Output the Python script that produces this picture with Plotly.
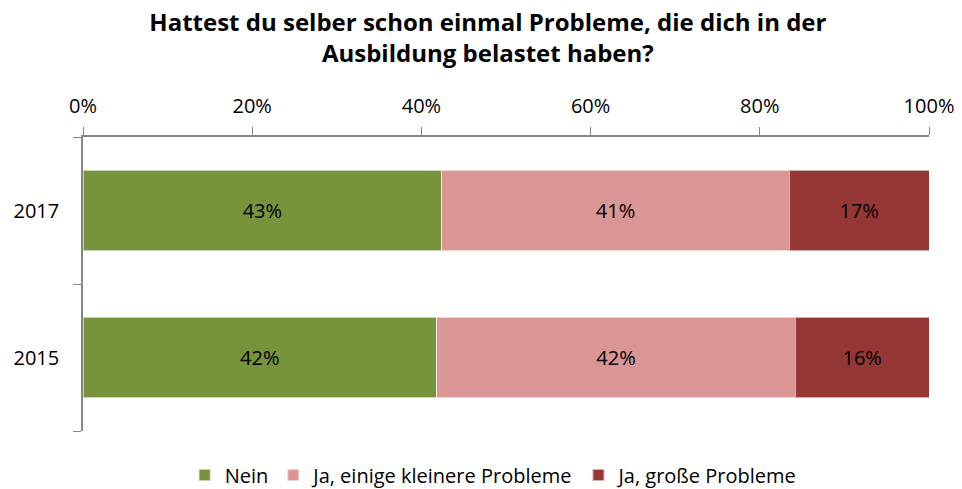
import plotly.graph_objects as go

years = ["2015", "2017"]
series_names = ["Nein", "Ja, einige kleinere Probleme", "Ja, große Probleme"]
nein = [41.8, 42.4]
kleine = [42.4, 41.1]
grosse = [15.8, 16.5]
nein_lbl = ["42%", "43%"]
kleine_lbl = ["42%", "41%"]
grosse_lbl = ["16%", "17%"]
colors = ["#77933C", "#D99694", "#953735"]
x_ticks = [0, 20, 40, 60, 80, 100]

FONT = "'Open Sans', Lato, sans-serif"

fig = go.Figure()
for name, vals, lbls, col in zip(series_names, [nein, kleine, grosse],
                                 [nein_lbl, kleine_lbl, grosse_lbl], colors):
    fig.add_trace(go.Bar(
        y=years, x=vals, name=name, orientation="h",
        marker=dict(color=col, line=dict(color="rgba(255,255,255,0.6)", width=1)),
        text=lbls, textposition="inside", insidetextanchor="middle",
        textfont=dict(color="black", size=20, family=FONT),
        constraintext="none", hoverinfo="skip",
    ))

fig.update_layout(
    barmode="stack",
    bargap=0.45,
    width=954, height=481,
    margin=dict(l=75, r=33, t=129, b=58),
    paper_bgcolor="white", plot_bgcolor="white",
    font=dict(family=FONT, size=20, color="black"),
    title=dict(
        text="<b>Hattest du selber schon einmal Probleme, die dich in der<br>Ausbildung belastet haben?</b>",
        x=0.503, xanchor="center", y=0.952, yanchor="top",
        font=dict(size=24, family=FONT, color="black"),
    ),
    legend=dict(
        orientation="h", x=0.486, xanchor="center",
        yref="container", y=0.029, yanchor="middle",
        font=dict(size=20, family=FONT), traceorder="normal",
        itemwidth=30, itemsizing="constant",
    ),
    xaxis=dict(
        side="top", range=[0, 100], tickvals=x_ticks,
        ticktext=[f"{v}%" for v in x_ticks],
        ticks="outside", ticklen=8, tickcolor="#868686",
        showline=True, linecolor="#868686", linewidth=1.5,
        showgrid=False, zeroline=False, automargin=False,
        tickfont=dict(size=20, family=FONT), ticklabelstandoff=6,
    ),
    yaxis=dict(
        type="category", categoryorder="array", categoryarray=years,
        ticks="outside", tickson="boundaries", ticklen=8, tickcolor="#868686",
        showline=True, linecolor="#868686", linewidth=1.5,
        showgrid=False, zeroline=False, automargin=False,
        tickfont=dict(size=20, family=FONT), ticklabelstandoff=18,
    ),
)

fig.write_html("out.html")
